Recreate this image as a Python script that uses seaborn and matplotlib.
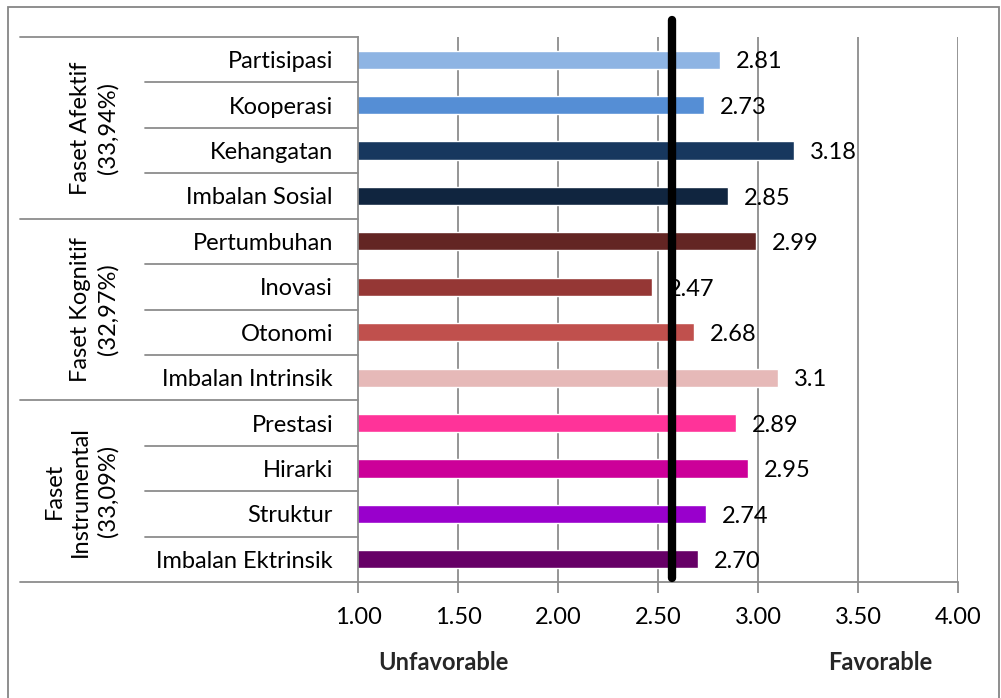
import matplotlib
matplotlib.use("Agg")
import matplotlib.pyplot as plt
import seaborn as sns
import pandas as pd
from matplotlib.patches import Rectangle
from matplotlib.lines import Line2D

# data
categories = ["Partisipasi", "Kooperasi", "Kehangatan", "Imbalan Sosial",
              "Pertumbuhan", "Inovasi", "Otonomi", "Imbalan Intrinsik",
              "Prestasi", "Hirarki", "Struktur", "Imbalan Ektrinsik"]
values = [2.81, 2.73, 3.18, 2.85, 2.99, 2.47, 2.68, 3.10, 2.89, 2.95, 2.74, 2.70]
value_labels = ["2.81", "2.73", "3.18", "2.85", "2.99", "2.47", "2.68", "3.1",
                "2.89", "2.95", "2.74", "2.70"]
colors = ["#8EB4E3", "#558ED5", "#17375E", "#10253F",
          "#632523", "#953735", "#C0504D", "#E6B9B8",
          "#FF3399", "#CC0099", "#9900CC", "#660066"]
groups = ["Faset Afektif\n(33,94%)", "Faset Kognitif\n(32,97%)",
          "Faset\nInstrumental\n(33,09%)"]
group_sizes = [4, 4, 4]
threshold = 2.57
xticks = [1.0, 1.5, 2.0, 2.5, 3.0, 3.5, 4.0]

df = pd.DataFrame({"kategori": categories, "nilai": values})

sns.set_theme(style="white")
plt.rcParams["font.family"] = ["Lato", "DejaVu Sans"]
grey = "#8C8C8C"
fs = 17

fig = plt.figure(figsize=(10.01, 6.98), dpi=100)
ax = fig.add_axes([358 / 1001, 1 - 582 / 698, 600 / 1001, 545 / 698])

sns.barplot(data=df, y="kategori", x="nilai", hue="kategori",
            palette=colors, order=categories, orient="h", width=0.4,
            legend=False, ax=ax, saturation=1)

ax.set_xlim(1, 4)
ax.set_ylim(len(categories) - 0.5, -0.5)
ax.set_xticks(xticks)
ax.set_xticklabels([f"{t:.2f}" for t in xticks], fontsize=fs)
ax.set_xlabel("")
ax.set_ylabel("")
ax.tick_params(axis="x", length=8, color=grey, width=1.3, pad=10, bottom=True)
ax.tick_params(axis="y", length=0, pad=18, labelsize=fs)
for lbl in ax.get_yticklabels() + ax.get_xticklabels():
    lbl.set_color("#000000")

for t in xticks[1:]:
    ax.axvline(t, color=grey, lw=1.3, zorder=0)
for s in ["top", "right"]:
    ax.spines[s].set_visible(False)
for s in ["left", "bottom"]:
    ax.spines[s].set_color(grey)
    ax.spines[s].set_linewidth(1.3)

# value labels
for i, (v, lab) in enumerate(zip(values, value_labels)):
    ax.text(v + 0.08, i + 0.05, lab, va="center", ha="left", fontsize=fs, color="#000000")

# threshold line
ax.axvline(threshold, ymin=0.007, ymax=1.031, color="black", lw=6, clip_on=False, zorder=5)

# category separators (multi-level axis)
trans = ax.get_yaxis_transform()
x_inner = (145 - 358) / 600
x_outer = (20 - 358) / 600
bounds = [-0.5]
for gs in group_sizes:
    bounds.append(bounds[-1] + gs)
group_bounds = set(bounds)
for k in range(len(categories) + 1):
    y = k - 0.5
    x0 = x_outer if y in group_bounds else x_inner
    ax.add_line(Line2D([x0, 0], [y, y], transform=trans, color=grey, lw=1.3, clip_on=False))

for g, lab in enumerate(groups):
    yc = (bounds[g] + bounds[g + 1]) / 2
    ax.text((119 - 358) / 600, yc, lab, transform=trans, rotation=90,
            ha="right", va="center", fontsize=fs, multialignment="center",
            color="#000000", linespacing=1.35)

# Unfavorable / Favorable
fig.text(443 / 1001, 1 - 662 / 698, "Unfavorable", ha="center", va="center",
         fontsize=fs, fontweight="bold")
fig.text(880 / 1001, 1 - 662 / 698, "Favorable", ha="center", va="center",
         fontsize=fs, fontweight="bold")

# outer chart border
fig.patches.append(Rectangle((8 / 1001, -0.05), 991 / 1001, 1 - 7 / 698 + 0.05,
                             transform=fig.transFigure, fill=False,
                             edgecolor="#868686", lw=1.3))

fig.savefig("out.png", dpi=100)
